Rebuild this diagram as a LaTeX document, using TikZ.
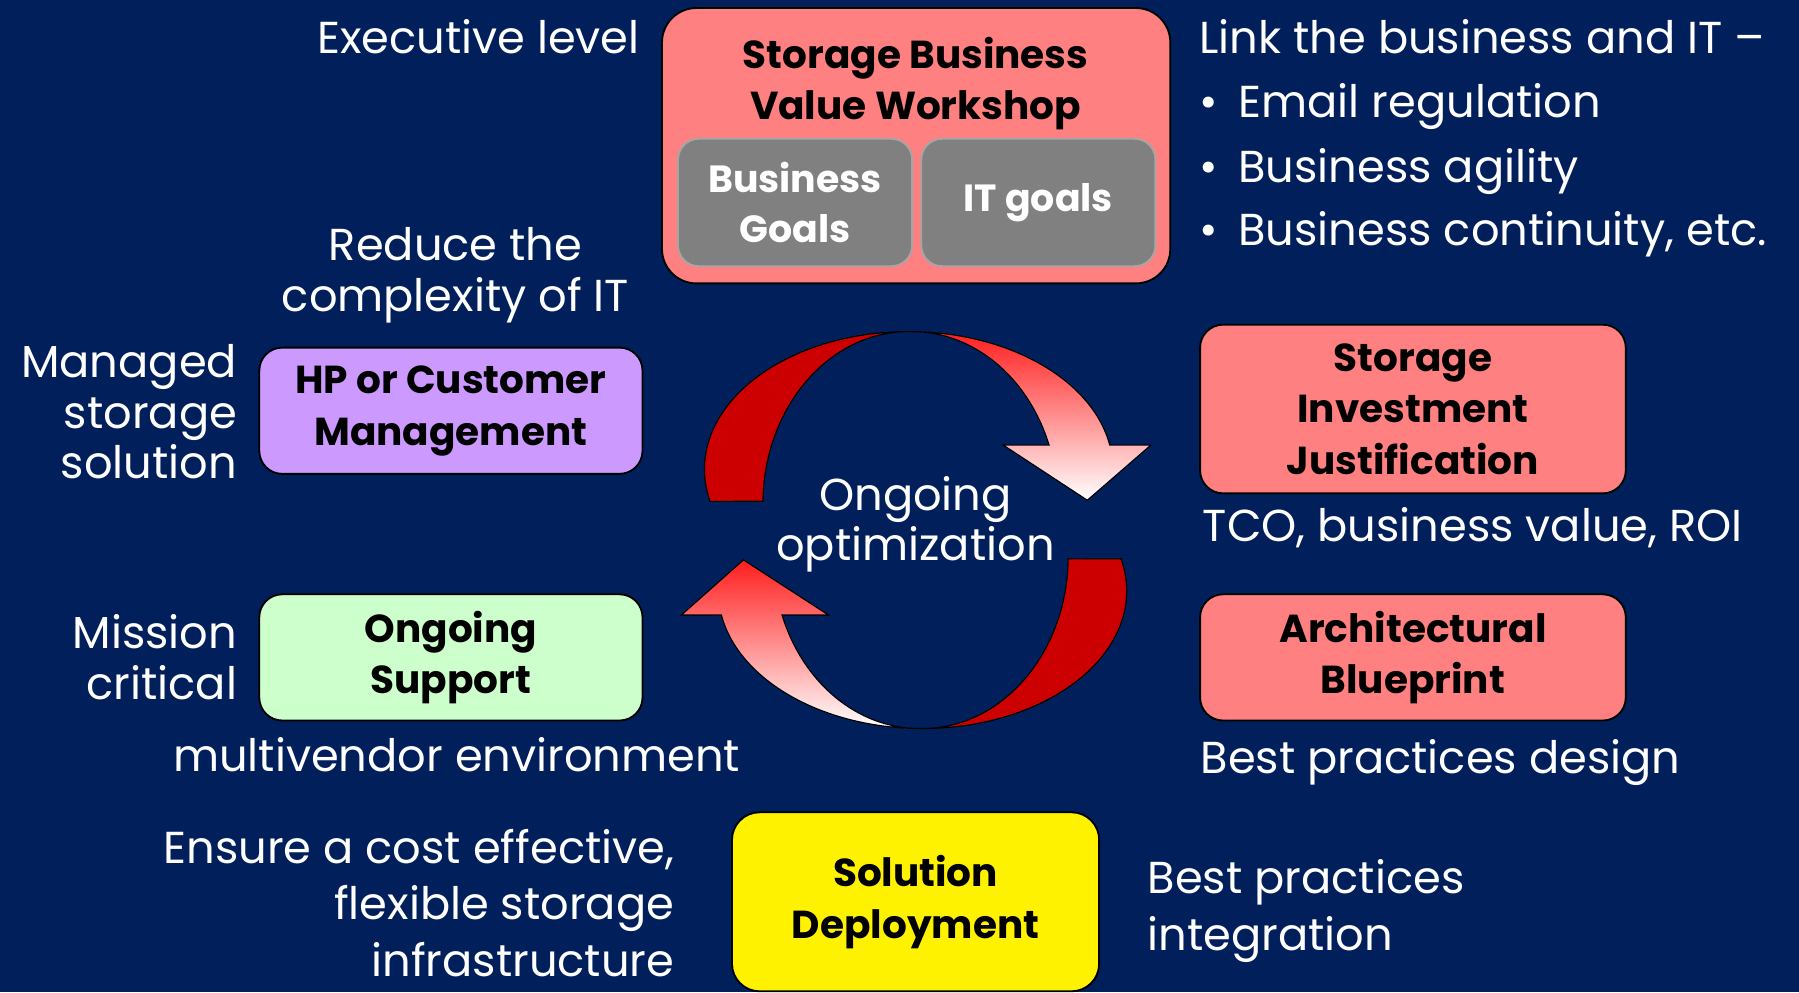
\documentclass[tikz,border=0pt]{standalone}
\usepackage{fontspec}
\setmainfont{Poppins}
\usepackage{tikz}
\usetikzlibrary{positioning}
\definecolor{navy}{RGB}{0,31,91}
\definecolor{salmon}{RGB}{255,128,128}
\definecolor{lavender}{RGB}{204,153,255}
\definecolor{mint}{RGB}{204,255,204}
\definecolor{goalgray}{RGB}{128,128,128}
\definecolor{darkred}{RGB}{204,0,0}
\definecolor{arrowred}{RGB}{255,30,30}
\begin{document}
\begin{tikzpicture}[x=0.5pt, y=-0.5pt,
	box/.style={draw=black, line width=0.8pt, rounded corners=10pt, align=center, text=black, font=\fontsize{17}{22.5}\selectfont\bfseries},
	goalbox/.style={draw=gray!70, line width=0.8pt, fill=goalgray, rounded corners=9pt, align=center, text=white, minimum width=102pt, minimum height=55.5pt, font=\fontsize{16.5}{22}\selectfont\bfseries},
	note/.style={text=white, inner sep=0pt, font=\fontsize{19.5}{22}\selectfont},
	onel/.style={note, text height=14pt, text depth=0pt}]
	
	\fill[navy] (0,0) rectangle (1568,865);
	\useasboundingbox (0,0) rectangle (1568,865);
	
	\node[box, fill=salmon, rounded corners=15pt, minimum width=221.5pt, minimum height=120pt] (wshop) at (798.5,127) {};
	\node[align=center, inner sep=0pt, font=\fontsize{17}{22.5}\selectfont\bfseries] (wtitle) at (798,73) {Storage Business\\Value Workshop};
	\node[goalbox] (bgoals) at (693,176.5) {Business\\Goals};
	\node[goalbox] (itgoals) at (905,176.5) {IT goals};
	
	\node[box, fill=lavender, minimum width=167pt, minimum height=55pt] (mgmt) at (393,358) {HP or Customer\\Management};
	\node[box, fill=mint, minimum width=167pt, minimum height=55pt] (support) at (393,573) {Ongoing\\Support};
	\node[box, fill=salmon, minimum width=185.5pt, minimum height=73.5pt] (invest) at (1231.5,356.5) {Storage\\Investment\\Justification};
	\node[box, fill=salmon, minimum width=185.5pt, minimum height=55pt] (blueprint) at (1231.5,573) {Architectural\\Blueprint};
	\node[box, fill=yellow, rounded corners=12pt, minimum width=160pt, minimum height=78pt] (deploy) at (798,786) {Solution\\Deployment};
	
	\fill[darkred, draw=black, line width=0.5pt] (618.9,437) arc[start angle=166.5, end angle=270, x radius=178, y radius=120] arc[start angle=270, end angle=180.8, x radius=127, y radius=150] -- cycle;
	\shade[top color=arrowred, bottom color=white, draw=black, line width=0.5pt] (792,289) arc[start angle=270, end angle=349.9, x radius=178, y radius=120] -- (1003,388) -- (947.7,436) -- (874.5,388) -- (914.4,388) arc[start angle=340.1, end angle=270, x radius=127, y radius=150] -- cycle;
	\fill[darkred, draw=black, line width=0.5pt] (977.1,487) arc[start angle=346.5, end angle=450, x radius=178, y radius=120] arc[start angle=90, end angle=0.8, x radius=127, y radius=150] -- cycle;
	\shade[top color=arrowred, bottom color=white, draw=black, line width=0.5pt] (804,635) arc[start angle=90, end angle=169.9, x radius=178, y radius=120] -- (594,536) -- (648,488) -- (722,536) -- (681.6,536) arc[start angle=160.1, end angle=90, x radius=127, y radius=150] -- cycle;
	
	\node[note, align=center] (optim) at (798,457) {Ongoing\\optimization};
	
	\node[onel, anchor=east] (exec) at (558,33) {Executive level};
	\node[onel, anchor=west] (link) at (1045,33) {Link the business and IT --};
	\node[onel, anchor=west] (email) at (1045,88) {\textbullet\hspace{9pt}Email regulation};
	\node[onel, anchor=west] (agility) at (1045,145) {\textbullet\hspace{9pt}Business agility};
	\node[onel, anchor=west] (contin) at (1045,200) {\textbullet\hspace{9pt}Business continuity, etc.};
	\node[note, align=center] (reduce) at (397,240) {Reduce the\\complexity of IT};
	\node[note, align=right, anchor=east] (managed) at (207,359) {Managed\\storage\\solution};
	\node[note, align=right, anchor=east] (mission) at (207,573) {Mission\\critical};
	\node[onel] (multi) at (398,658) {multivendor environment};
	\node[onel, anchor=west] (tco) at (1048,458) {TCO, business value, ROI};
	\node[onel, anchor=west] (design) at (1046,660) {Best practices design};
	\node[note, align=right, anchor=east, font=\fontsize{19.5}{24.5}\selectfont] (ensure) at (588,787) {Ensure a cost effective,\\flexible storage\\infrastructure};
	\node[note, align=left, anchor=west, font=\fontsize{19.5}{25}\selectfont] (integr) at (1000,794) {Best practices\\integration};
\end{tikzpicture}
\end{document}
